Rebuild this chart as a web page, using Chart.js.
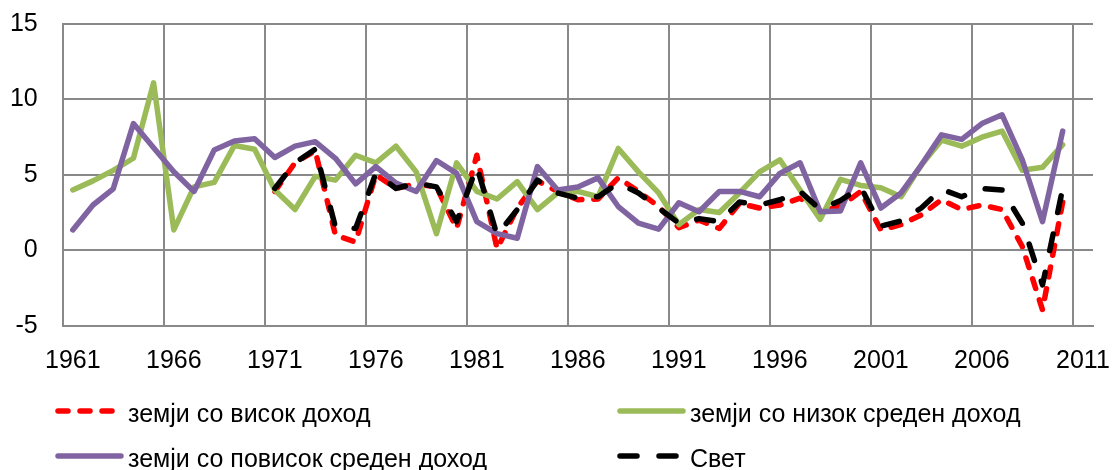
<!DOCTYPE html>
<html>
<head>
<meta charset="utf-8">
<script src="https://cdn.jsdelivr.net/npm/chart.js@4/dist/chart.umd.min.js"></script>
<style>
  body { margin: 0; background: #fff; }
  #wrap { position: relative; width: 1112px; height: 470px; overflow: hidden; }
  #myChart { position: absolute; left: 0; top: 0; }
  .item { position: absolute; height: 28px; line-height: 28px; font: 25px "Liberation Sans", Arial, sans-serif; color: #000; white-space: nowrap; }
  .item svg { position: absolute; left: 0; top: 0; }
  .item span { position: absolute; left: 73px; top: 0; }
</style>
</head>
<body>
<div id="wrap">
  <canvas id="myChart" width="1112" height="470"></canvas>
  <div id="legend"></div>
</div>
<script>
const years = [];
for (let y = 1961; y <= 2011; y++) years.push(String(y));

const yTicks = [-5, 0, 5, 10, 15];

const seriesNames = [
  'земји со висок доход',
  'земји со низок среден доход',
  'земји со повисок среден доход',
  'Свет'
];

// 1961..2010, 2011 has no value
const highIncome = [null, null, null, null, null, null, null, null, null, null,
  3.9, 5.8, 6.6, 1.0, 0.55, 5.0, 4.1, 4.4, 4.2, 1.45,
  6.3, 0.1, 2.8, 4.6, 3.9, 3.35, 3.4, 4.8, 3.9, 2.9,
  1.5, 2.0, 1.45, 3.1, 2.8, 3.0, 3.45, 2.6, 2.9, 3.9,
  1.35, 1.7, 2.35, 3.35, 2.7, 3.0, 2.7, 0.25, -3.95, 3.2, null];

const lowerMiddle = [4.0, 4.6, 5.3, 6.1, 11.1, 1.35, 4.2, 4.5, 6.95, 6.7,
  4.0, 2.7, 4.9, 4.65, 6.3, 5.8, 6.9, 5.2, 1.1, 5.8,
  3.9, 3.4, 4.55, 2.7, 3.8, 3.9, 3.55, 6.75, 5.2, 3.8,
  1.7, 2.7, 2.5, 3.8, 5.2, 6.0, 4.0, 2.05, 4.7, 4.3,
  4.15, 3.55, 5.65, 7.3, 6.9, 7.5, 7.9, 5.3, 5.5, 7.0, null];

const upperMiddle = [1.35, 3.0, 4.07, 8.4, 6.8, 5.2, 3.9, 6.65, 7.25, 7.4,
  6.15, 6.9, 7.2, 6.1, 4.4, 5.55, 4.45, 3.9, 5.95, 5.1,
  1.9, 1.1, 0.8, 5.55, 4.0, 4.2, 4.8, 2.9, 1.8, 1.4,
  3.15, 2.55, 3.9, 3.9, 3.55, 5.1, 5.8, 2.55, 2.6, 5.8,
  2.8, 3.8, 5.65, 7.65, 7.35, 8.4, 8.98, 6.0, 1.9, 7.9, null];

const world = [null, null, null, null, null, null, null, null, null, null,
  4.1, 5.8, 6.7, 1.55, 1.45, 5.1, 4.1, 4.45, 4.2, 1.9,
  5.55, 1.0, 2.7, 4.65, 3.8, 3.45, 3.55, 4.45, 3.8, 2.8,
  1.8, 2.1, 1.9, 3.2, 3.0, 3.35, 3.9, 2.7, 3.3, 4.2,
  1.6, 1.95, 2.8, 4.05, 3.55, 4.1, 4.0, 1.8, -2.3, 4.1, null];

const FONT = '"Liberation Sans", Arial, sans-serif';
const gridCol = '#898989';
const clear = 'rgba(0,0,0,0)';

const ds = [
  { label: seriesNames[0], data: highIncome, borderColor: '#ff0000', borderWidth: 5.5, borderDash: [10, 12], order: 3 },
  { label: seriesNames[1], data: lowerMiddle, borderColor: '#9bbb59', borderWidth: 5.5, borderDash: [], order: 2 },
  { label: seriesNames[2], data: upperMiddle, borderColor: '#8064a2', borderWidth: 5.5, borderDash: [], order: 1 },
  { label: seriesNames[3], data: world, borderColor: '#000000', borderWidth: 5.5, borderDash: [17, 22], order: 0 }
];
ds.forEach(d => { d.pointRadius = 0; d.tension = 0; d.borderCapStyle = 'round'; d.borderJoinStyle = 'round'; d.fill = false; });

const cfg = {
  type: 'line',
  data: { labels: years, datasets: ds },
  options: {
    responsive: false,
    animation: false,
    layout: { padding: { top: 24, right: 19, bottom: 0, left: 0 } },
    plugins: { legend: { display: false }, tooltip: { enabled: false } },
    scales: {
      x: {
        offset: true,
        grid: {
          offset: true,
          tickLength: 17,
          tickColor: clear,
          lineWidth: 2,
          color: c => (c.index !== undefined && c.index % 5 === 0) ? gridCol : clear
        },
        border: { color: gridCol, width: 2 },
        ticks: {
          autoSkip: false, maxRotation: 0, padding: 3, color: '#000',
          font: { family: FONT, size: 25 },
          callback: (v, i) => i % 5 === 0 ? years[i] : ''
        },
        afterFit: s => { s.height = 470 - 325.7; s.paddingLeft = 0; s.paddingRight = 0; }
      },
      y: {
        min: yTicks[0], max: yTicks[yTicks.length - 1],
        grid: { tickLength: 22, tickColor: clear, lineWidth: 2, color: gridCol },
        border: { color: gridCol, width: 2 },
        afterBuildTicks: s => { s.ticks = yTicks.map(v => ({ value: v })); },
        ticks: { padding: 3, color: '#000', font: { family: FONT, size: 25 } },
        afterFit: s => { s.width = 62.7; }
      }
    }
  }
};

const chart = new Chart(document.getElementById('myChart'), cfg);

// legend: two columns, built from the datasets
const slots = [[55, 399], [617, 399], [55, 444], [617, 444]];
const leg = document.getElementById('legend');
ds.forEach((d, i) => {
  const el = document.createElement('div');
  el.className = 'item';
  el.style.left = slots[i][0] + 'px';
  el.style.top = slots[i][1] + 'px';
  const dash = d.borderDash.length ? `stroke-dasharray="${d.borderDash.join(' ')}"` : '';
  el.innerHTML = `<svg width="72" height="28"><line x1="3" y1="12" x2="66" y2="12" stroke="${d.borderColor}" stroke-width="5.5" stroke-linecap="round" ${dash}/></svg><span></span>`;
  el.querySelector('span').textContent = d.label;
  leg.appendChild(el);
});
</script>
</body>
</html>
